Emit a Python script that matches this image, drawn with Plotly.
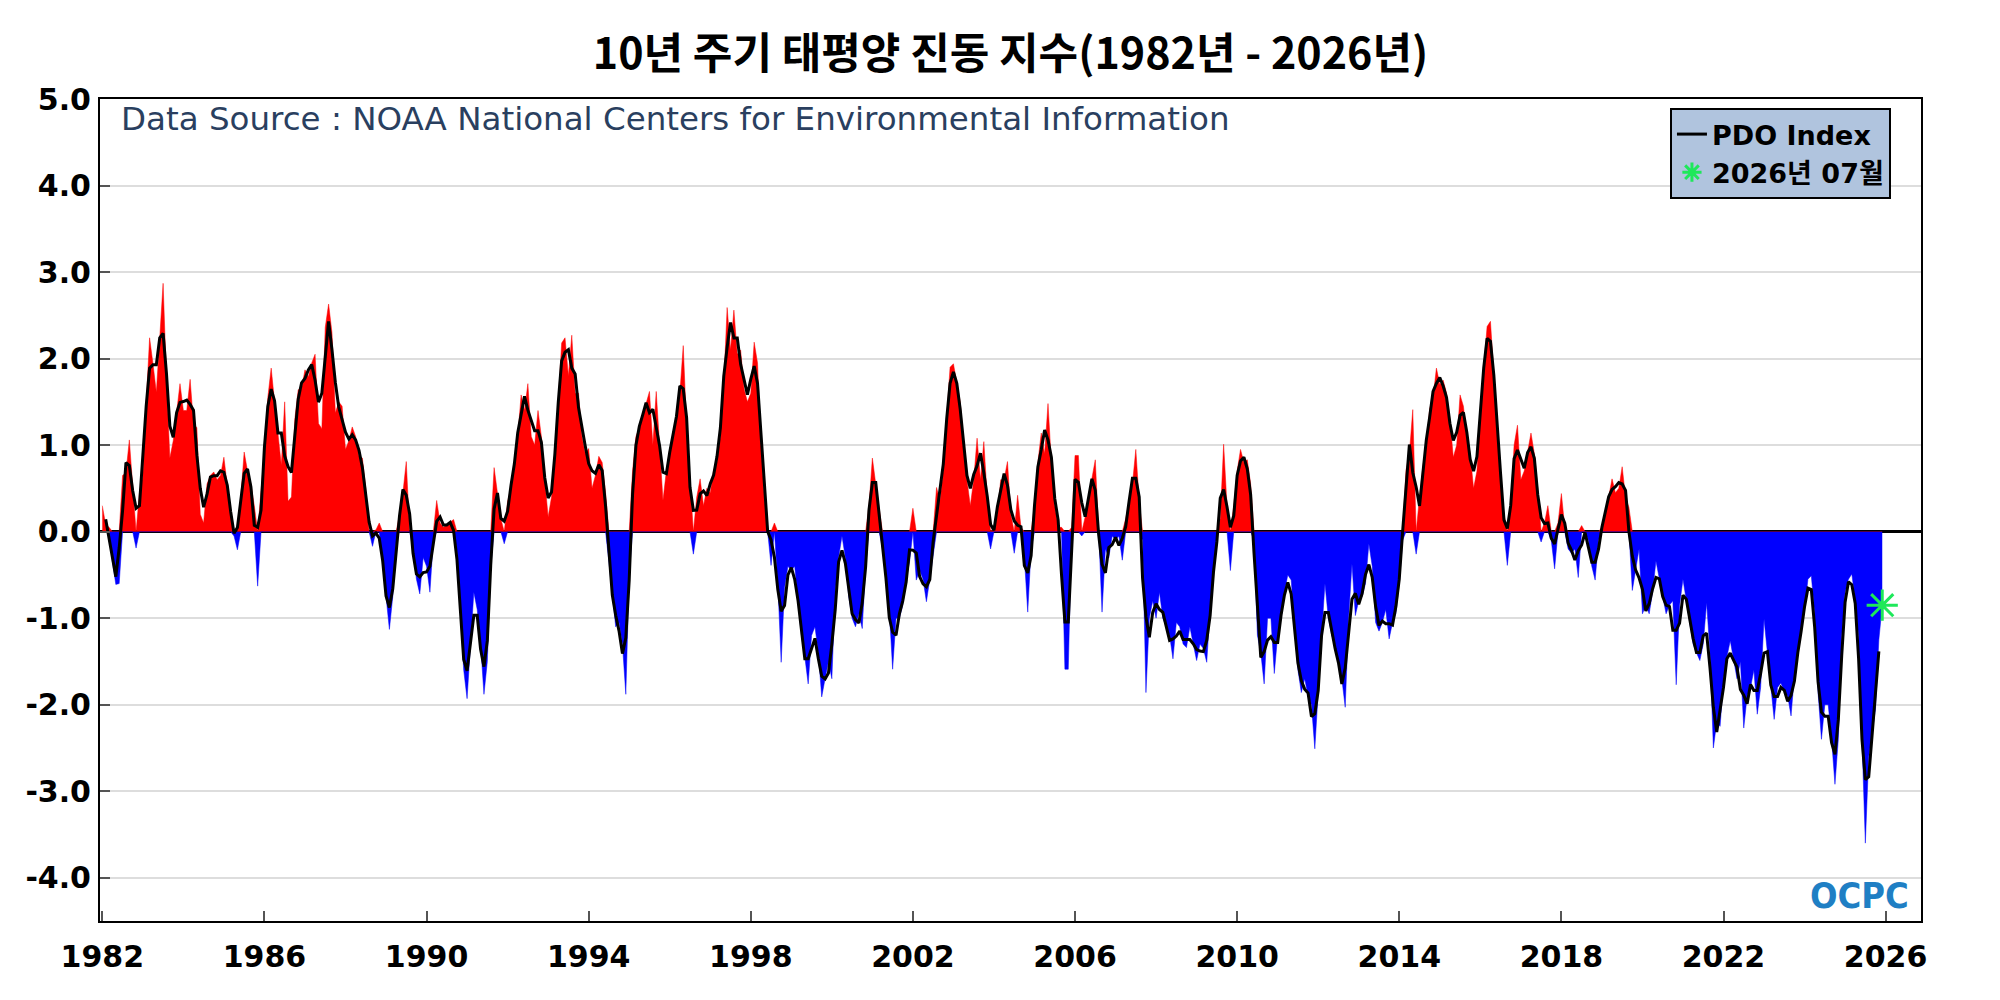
import numpy as np
import pandas as pd
import plotly.graph_objects as go

# ---------------- data ----------------
start_year = 1982
pdo_monthly = [
    0.30, 0.08, 0.05, -0.35, -0.61, -0.60, 0.65, 0.68, 1.06, 0.55,
    -0.19, 0.45, 0.64, 1.49, 2.24, 1.94, 1.61, 2.24, 2.87, 1.76,
    0.85, 1.05, 1.37, 1.71, 1.40, 1.40, 1.76, 1.25, 1.20, 0.20,
    0.10, 0.55, 0.65, 0.69, 0.60, 0.65, 0.86, 0.55, 0.20, -0.05,
    -0.21, 0.40, 0.92, 0.70, 0.55, 0.30, -0.63, 0.48, 0.90, 1.55,
    1.89, 1.50, 1.15, 0.77, 1.50, 0.35, 0.40, 1.30, 1.64, 1.65,
    1.87, 1.79, 1.95, 2.05, 1.25, 1.19, 2.36, 2.63, 2.30, 1.37,
    1.50, 1.45, 0.95, 1.05, 1.21, 1.10, 0.87, 0.85, 0.50, 0.00,
    -0.17, 0.02, 0.10, -0.35, -0.75, -1.13, -0.75, -0.10, 0.20, 0.45,
    0.81, 0.00, -0.20, -0.55, -0.72, -0.30, -0.40, -0.70, -0.10, 0.36,
    0.10, 0.05, 0.08, 0.10, 0.14, -0.20, -0.90, -1.60, -1.93, -1.30,
    -0.70, -0.90, -1.30, -1.88, -1.50, -0.40, 0.74, 0.45, 0.15, -0.14,
    0.35, 0.50, 0.75, 1.10, 1.58, 1.40, 1.71, 1.10, 1.00, 1.40,
    1.10, 0.60, 0.17, 0.40, 0.80, 1.50, 2.18, 2.24, 1.80, 2.27,
    1.60, 1.60, 1.10, 0.90, 0.96, 0.50, 0.65, 0.87, 0.80, 0.45,
    -0.35, -0.75, -1.10, -1.05, -1.30, -1.88, -0.50, 0.70, 1.10, 1.20,
    1.35, 1.50, 1.62, 1.00, 1.62, 1.00, 0.36, 0.70, 0.95, 1.10,
    1.30, 1.60, 2.15, 1.20, 0.60, -0.26, 0.40, 0.61, 0.30, 0.50,
    0.45, 0.71, 0.80, 1.10, 1.70, 2.59, 2.10, 2.56, 2.05, 2.10,
    1.65, 1.50, 1.60, 2.19, 1.95, 1.00, 0.40, 0.00, -0.39, 0.10,
    -0.60, -1.51, -0.65, -0.40, -0.45, -0.40, -0.80, -1.20, -1.45, -1.76,
    -1.20, -1.10, -1.40, -1.91, -1.70, -1.50, -1.70, -0.70, -0.30, -0.05,
    -0.30, -0.75, -1.00, -1.10, -0.95, -1.12, -0.40, 0.30, 0.85, 0.55,
    0.30, -0.20, -0.49, -0.90, -1.59, -1.00, -1.00, -0.85, -0.55, -0.35,
    0.27, -0.56, -0.45, -0.55, -0.81, -0.55, -0.30, 0.51, 0.35, 0.70,
    1.30, 1.90, 1.94, 1.70, 1.50, 1.05, 0.60, 0.30, 0.60, 1.08,
    0.60, 1.04, 0.40, -0.20, 0.05, 0.20, 0.60, 0.60, 0.81, 0.20,
    -0.25, 0.42, 0.05, -0.30, -0.93, -0.20, 0.30, 0.80, 1.14, 0.90,
    1.48, 0.80, 0.30, 0.05, 0.05, -1.59, -1.59, 0.05, 0.88, 0.88,
    -0.05, 0.17, 0.40, 0.60, 0.83, 0.00, -0.93, -0.20, -0.30, -0.05,
    -0.10, -0.05, -0.33, 0.15, 0.35, 0.55, 0.95, 0.35, -0.10, -1.86,
    -1.00, -0.80, -1.00, -0.70, -1.00, -1.10, -1.20, -1.47, -1.05, -1.10,
    -1.30, -1.34, -1.10, -1.30, -1.49, -1.30, -1.35, -1.51, -0.90, -0.50,
    0.00, 0.15, 1.01, 0.30, -0.45, 0.30, 0.70, 0.95, 0.80, 0.83,
    0.55, -0.10, -1.20, -1.40, -1.76, -1.00, -1.00, -1.64, -1.20, -1.00,
    -0.70, -0.50, -0.56, -1.10, -1.60, -1.86, -1.70, -1.90, -2.00, -2.51,
    -1.80, -1.20, -0.60, -1.00, -1.20, -1.30, -1.55, -1.70, -2.03, -1.00,
    -0.37, -0.97, -0.80, -0.75, -0.60, -0.14, -0.40, -1.05, -1.15, -1.05,
    -0.90, -1.24, -1.05, -0.95, -0.60, -0.10, 0.71, 0.90, 1.41, -0.26,
    0.40, 0.75, 1.00, 1.42, 1.55, 1.89, 1.70, 1.75, 1.60, 1.30,
    0.86, 1.00, 1.58, 1.45, 1.10, 0.90, 0.50, 0.70, 1.40, 1.90,
    2.37, 2.43, 1.80, 1.20, 0.60, 0.20, -0.39, 0.30, 1.00, 1.23,
    0.60, 0.70, 0.90, 1.14, 0.90, 0.50, -0.12, 0.10, 0.30, -0.10,
    -0.43, 0.10, 0.44, 0.05, -0.20, -0.25, -0.20, -0.53, 0.07, 0.00,
    -0.10, -0.40, -0.56, -0.10, 0.05, 0.20, 0.40, 0.61, 0.45, 0.50,
    0.75, 0.40, 0.28, -0.68, -0.45, -0.20, -0.95, -0.85, -0.95, -0.70,
    -0.34, -0.55, -0.75, -0.95, -0.85, -0.80, -1.77, -0.85, -0.55, -0.80,
    -1.00, -1.30, -1.40, -1.49, -1.30, -0.82, -1.40, -2.50, -2.20, -2.25,
    -1.70, -1.45, -1.26, -1.50, -1.70, -1.50, -2.27, -1.90, -1.80, -1.60,
    -2.11, -1.80, -1.01, -1.40, -1.75, -2.17, -1.80, -1.75, -1.85, -1.90,
    -2.13, -1.65, -1.40, -1.15, -0.90, -0.55, -0.51, -0.95, -1.86, -2.40,
    -2.00, -2.00, -2.40, -2.92, -2.40, -1.20, -0.70, -0.55, -0.49, -0.80,
    -1.20, -2.40, -3.60, -2.60, -2.30, -2.05, -1.25, -0.85,
]
tick_years = [1982, 1986, 1990, 1994, 1998, 2002, 2006, 2010, 2014, 2018, 2022, 2026]
y_ticks = [-4.0, -3.0, -2.0, -1.0, 0.0, 1.0, 2.0, 3.0, 4.0, 5.0]
title_text = "10년 주기 태평양 진동 지수(1982년 - 2026년)"
source_text = "Data Source : NOAA National Centers for Environmental Information"
series_label = "PDO Index"
latest_label = "2026년 07월"
logo_text = "OCPC"

# ---------------- derived ----------------
vals = np.array(pdo_monthly, dtype=float)
n = len(vals)
x = start_year + np.arange(n) / 12.0
pos = np.where(vals > 0, vals, 0.0)
neg = np.where(vals < 0, vals, 0.0)
smooth = pd.Series(vals).rolling(3, center=True).mean()

fig = go.Figure()
fig.add_trace(go.Scatter(x=x, y=pos, mode="lines", fill="tozeroy",
                         fillcolor="#ff0000", line=dict(color="#ff0000", width=0.5),
                         showlegend=False, hoverinfo="skip"))
fig.add_trace(go.Scatter(x=x, y=neg, mode="lines", fill="tozeroy",
                         fillcolor="#0000ff", line=dict(color="#0000ff", width=0.5),
                         showlegend=False, hoverinfo="skip"))
fig.add_trace(go.Scatter(x=x, y=smooth, mode="lines", name=series_label,
                         line=dict(color="black", width=3)))
fig.add_trace(go.Scatter(x=[x[-1]], y=[vals[-1]], mode="markers", name=latest_label,
                         marker=dict(symbol="asterisk", size=26, color="#1ee85a",
                                     line=dict(color="#1ee85a", width=3))))

tick_font = dict(family="DejaVu Sans", size=30, color="black", weight="bold")

fig.update_layout(
    width=2000, height=1000,
    template="none",
    paper_bgcolor="white", plot_bgcolor="white",
    margin=dict(l=100, r=79, t=99, b=79),
    title=dict(text=title_text, x=0.5, xref="paper", xanchor="center",
               y=0.946, yref="container", yanchor="middle",
               font=dict(family="Noto Sans CJK KR", size=43, color="black", weight="bold")),
    xaxis=dict(range=[1981.943, 2026.873], tickvals=tick_years,
               ticktext=[str(t) for t in tick_years],
               showgrid=False, zeroline=False,
               showline=True, mirror=True, linecolor="black", linewidth=2,
               ticks="inside", ticklen=10, tickwidth=2, tickcolor="#555555",
               tickfont=tick_font, ticklabelstandoff=8),
    yaxis=dict(range=[-4.5, 5.0], tickvals=y_ticks,
               ticktext=[f"{v:.1f}" for v in y_ticks],
               showgrid=True, gridcolor="#dddddd", gridwidth=1.5,
               zeroline=True, zerolinecolor="black", zerolinewidth=3,
               showline=True, mirror=True, linecolor="black", linewidth=2,
               ticks="inside", ticklen=10, tickwidth=2, tickcolor="#555555",
               tickfont=tick_font, ticklabelstandoff=1),
    legend=dict(x=0.9835, y=0.989, xanchor="right", yanchor="top",
                bgcolor="#b0c4de", bordercolor="black", borderwidth=2,
                font=dict(family="DejaVu Sans, Noto Sans CJK KR", size=27,
                          color="black", weight="bold")),
    annotations=[
        dict(text=source_text, xref="paper", yref="paper", x=0.0104, y=0.9757,
             xanchor="left", yanchor="middle", showarrow=False,
             font=dict(family="DejaVu Sans", size=32.5, color="#2a3f5f")),
        dict(text=logo_text, xref="paper", yref="paper", x=0.9945, y=0.0316,
             xanchor="right", yanchor="middle", showarrow=False,
             font=dict(family="DejaVu Sans Condensed", size=36, color="#1f7fc4",
                       weight="bold")),
    ],
)

fig.write_html("out.html", config={"displayModeBar": False},
               post_script="document.body.style.margin='0';")
